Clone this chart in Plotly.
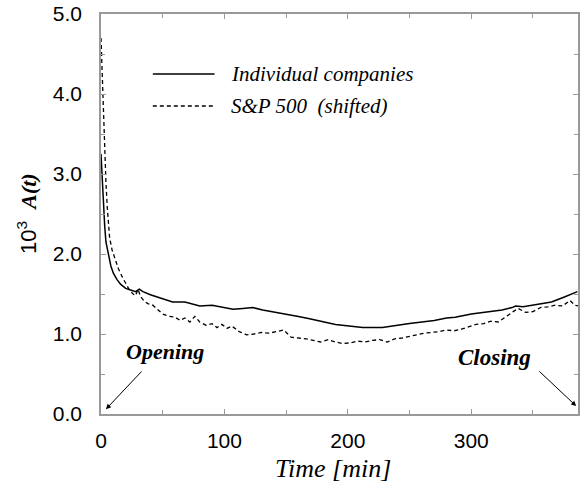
import plotly.graph_objects as go

# Individual companies (solid)
t_ind = [0, 1, 2, 3, 4, 6, 8, 10, 13, 16, 20, 24, 28, 31, 34, 40, 48, 58, 68, 80, 90,
         100, 107, 115, 123, 131, 139, 150, 160, 169, 180, 190, 201, 212, 228, 240, 250,
         260, 270, 280, 287, 300, 314, 325, 333, 336, 342, 350, 358, 365, 375, 386]
a_ind = [3.25, 2.9, 2.6, 2.35, 2.15, 1.98, 1.85, 1.76, 1.68, 1.62, 1.57, 1.55, 1.53, 1.56,
         1.53, 1.49, 1.45, 1.40, 1.40, 1.35, 1.36, 1.33, 1.31, 1.32, 1.33, 1.30, 1.28, 1.25,
         1.22, 1.19, 1.15, 1.12, 1.10, 1.08, 1.08, 1.11, 1.13, 1.15, 1.17, 1.20, 1.21, 1.25,
         1.28, 1.30, 1.33, 1.35, 1.34, 1.36, 1.38, 1.40, 1.46, 1.53]

# S&P 500 (shifted) (dashed)
t_sp = [0, 1, 2, 3, 4, 5, 7, 9, 11, 14, 17, 20, 23, 26, 28, 30, 32, 35, 38, 42, 46, 50,
        55, 60, 64, 68, 72, 76, 80, 85, 90, 94, 98, 102, 106, 112, 118, 124, 130, 136,
        142, 148, 154, 160, 166, 172, 178, 184, 190, 196, 202, 208, 214, 220, 226, 232,
        238, 244, 250, 256, 262, 268, 274, 280, 286, 292, 298, 304, 310, 316, 322, 328,
        334, 338, 344, 350, 356, 362, 368, 374, 380, 384, 387]
a_sp = [4.7, 4.2, 3.7, 3.3, 2.9, 2.6, 2.2, 2.05, 1.95, 1.82, 1.72, 1.63, 1.55, 1.50, 1.48,
        1.56, 1.47, 1.41, 1.38, 1.36, 1.30, 1.25, 1.22, 1.21, 1.17, 1.20, 1.15, 1.22, 1.15,
        1.11, 1.13, 1.08, 1.12, 1.07, 1.10, 1.03, 0.99, 1.00, 1.02, 1.01, 1.03, 1.05, 0.96,
        0.95, 0.94, 0.92, 0.90, 0.93, 0.90, 0.88, 0.89, 0.91, 0.90, 0.92, 0.93, 0.90, 0.94,
        0.95, 0.97, 0.99, 1.01, 1.02, 1.03, 1.05, 1.04, 1.06, 1.09, 1.12, 1.13, 1.16, 1.15,
        1.22, 1.28, 1.32, 1.27, 1.28, 1.33, 1.34, 1.36, 1.35, 1.42, 1.36, 1.35]

series_names = ["Individual companies", "S&P 500  (shifted)"]
x_ticks = [0, 100, 200, 300]
y_ticks = [0.0, 1.0, 2.0, 3.0, 4.0, 5.0]
y_ticklabels = ["0.0", "1.0", "2.0", "3.0", "4.0", "5.0"]

SERIF = "Liberation Serif, Times New Roman, serif"
SANS = "Liberation Sans, Arial, sans-serif"

fig = go.Figure()
fig.add_trace(go.Scatter(x=t_ind, y=a_ind, mode="lines", name=series_names[0],
                         line=dict(color="black", width=1.5), showlegend=False))
fig.add_trace(go.Scatter(x=t_sp, y=a_sp, mode="lines", name=series_names[1],
                         line=dict(color="black", width=1.3, dash="4px,3px"), showlegend=False))

axis_common = dict(showgrid=False, zeroline=False, showline=True, linecolor="#999999",
                   linewidth=1.5, mirror="ticks", ticks="inside", ticklen=5,
                   tickcolor="#999999", tickwidth=1,
                   tickfont=dict(family=SANS, size=21, color="black"))

fig.update_xaxes(range=[0, 386.5], tickvals=x_ticks, ticklabelstandoff=7,
                 minor=dict(dtick=50, tick0=0, ticks="inside", ticklen=4, tickcolor="#999999"),
                 **axis_common)
fig.update_yaxes(range=[0, 5.0], tickvals=y_ticks, ticktext=y_ticklabels, ticklabelstandoff=13,
                 minor=dict(dtick=0.5, tick0=0, ticks="inside", ticklen=4, tickcolor="#999999"),
                 **axis_common)

annotations = [
    dict(text="<i>Time [min]</i>", x=0.487, y=-0.135, xref="paper", yref="paper",
         showarrow=False, font=dict(family=SERIF, size=26, color="black"),
         xanchor="center", yanchor="middle"),
    dict(text="10<sup>3</sup>  <span style='font-family:Liberation Serif'><b><i>A(t)</i></b></span>",
         x=-0.155, y=0.5, xref="paper", yref="paper", showarrow=False, textangle=-90,
         font=dict(family=SANS, size=22, color="black"), xanchor="center", yanchor="middle"),
    dict(text="<b><i>Opening</i></b>", x=52, y=0.78, xref="x", yref="y", showarrow=False,
         font=dict(family=SERIF, size=22, color="black")),
    dict(text="<b><i>Closing</i></b>", x=319, y=0.71, xref="x", yref="y", showarrow=False,
         font=dict(family=SERIF, size=23, color="black")),
    dict(text="", x=4, y=0.06, ax=34, ay=0.55, xref="x", yref="y", axref="x", ayref="y",
         showarrow=True, arrowhead=2, arrowsize=1, arrowwidth=1, arrowcolor="black"),
    dict(text="", x=385, y=0.1, ax=354, ay=0.55, xref="x", yref="y", axref="x", ayref="y",
         showarrow=True, arrowhead=2, arrowsize=1, arrowwidth=1, arrowcolor="black"),
]

# Manual legend (line samples + labels)
legend_y = [4.25, 3.85]
legend_dash = ["solid", "4px,3px"]
shapes = []
for name, ly, dsh in zip(series_names, legend_y, legend_dash):
    shapes.append(dict(type="line", xref="x", yref="y", x0=42, x1=92, y0=ly, y1=ly,
                       line=dict(color="black", width=1.3, dash=dsh)))
    annotations.append(dict(text="<i>" + name + "</i>", x=104, y=ly, xref="x", yref="y",
                            showarrow=False, xanchor="left", yanchor="middle",
                            font=dict(family=SERIF, size=21, color="black")))

fig.update_layout(width=582, height=485, margin=dict(l=101, r=2, t=14, b=71),
                  plot_bgcolor="white", paper_bgcolor="white",
                  annotations=annotations, shapes=shapes)

fig.write_html("out.html")
